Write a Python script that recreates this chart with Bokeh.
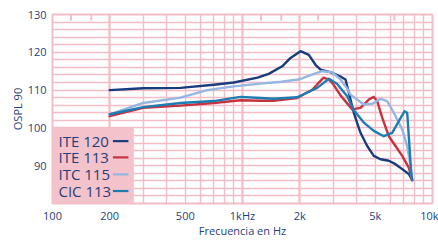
from bokeh.plotting import figure
from bokeh.models import FixedTicker, Grid, Label, BoxAnnotation
from bokeh.embed import file_html
from bokeh.resources import INLINE

# ---- data ----
ite120_f = [200, 300, 472, 706, 900, 1200, 1374, 1618, 1790, 2019, 2234, 2422, 2575, 2735, 2950, 3280, 3484, 3628, 3853, 4179, 4532, 4910, 5324, 5888, 6387, 6927, 7503, 7820]
ite120_db = [110.0, 110.5, 110.6, 111.4, 112.0, 113.3, 114.3, 116.3, 118.5, 120.3, 119.3, 116.7, 115.4, 115.1, 114.6, 113.6, 112.8, 109.3, 104.0, 98.7, 95.2, 92.6, 91.7, 91.3, 90.4, 89.1, 87.8, 86.2]

ite113_f = [200, 300, 472, 706, 976, 1244, 1456, 1940, 2327, 2669, 2850, 3000, 3280, 3779, 4179, 4620, 4910, 5117, 5436, 5888, 6387, 6927, 7503, 7820]
ite113_db = [103.1, 105.3, 105.9, 106.6, 107.3, 107.2, 107.2, 107.9, 110.1, 113.3, 112.8, 111.6, 108.6, 104.9, 105.3, 107.5, 108.2, 107.1, 102.7, 97.8, 95.2, 92.6, 89.5, 86.2]

itc115_f = [200, 300, 472, 652, 900, 1244, 1600, 1971, 2300, 2627, 2950, 3280, 3556, 3702, 4350, 4815, 5324, 5775, 6256, 6927, 7358, 7658, 7820]
itc115_db = [103.6, 106.6, 108.0, 110.0, 111.0, 111.7, 112.2, 112.8, 114.0, 115.0, 114.8, 112.8, 110.4, 108.8, 106.2, 106.4, 107.7, 107.1, 104.0, 99.6, 95.2, 90.0, 86.2]

cic113_f = [200, 300, 472, 706, 976, 1244, 1456, 1940, 2472, 2850, 3150, 3556, 3853, 4350, 4910, 5542, 6137, 6647, 7124, 7358, 7503, 7725, 7820]
cic113_db = [103.6, 105.5, 106.6, 107.1, 108.2, 107.9, 107.7, 108.1, 110.6, 113.0, 111.6, 108.4, 104.7, 101.4, 99.2, 97.8, 98.7, 101.8, 104.4, 104.0, 97.8, 88.2, 86.2]

series_names = ["ITE 120", "ITE 113", "ITC 115", "CIC 113"]
series_f = [ite120_f, ite113_f, itc115_f, cic113_f]
series_db = [ite120_db, ite113_db, itc115_db, cic113_db]
series_colors = ["#173d7d", "#c8323e", "#93b6e2", "#1b7db1"]

x_ticks = [100, 200, 500, 1000, 2000, 5000, 10000]
x_tick_labels = ["100", "200", "500", "1kHz", "2k", "5k", "10k"]
y_ticks = [90, 100, 110, 120, 130]
third_octave_marks = [125, 160, 1250, 1600, 2500, 6300]

# ---- styling ----
PINK = "#f4bcc6"
NAVY = "#1f3f7a"
FONT = "Open Sans"

p = figure(width=438, height=240, x_axis_type="log", x_range=(100, 10000), y_range=(80, 130),
           output_backend="svg", toolbar_location=None,
           min_border_left=52, min_border_right=6, min_border_top=14, min_border_bottom=36)
p.background_fill_color = "white"
p.border_fill_color = "white"
p.outline_line_color = PINK
p.outline_line_width = 2

# grids
minor_x = [300, 400, 500, 600, 700, 800, 900, 3000, 4000, 5000, 6000, 7000, 8000, 9000]
major_x = [200, 1000, 2000]
p.xgrid.ticker = FixedTicker(ticks=minor_x)
p.xgrid.grid_line_color = PINK
p.xgrid.grid_line_width = 1.4
g2 = Grid(dimension=0, ticker=FixedTicker(ticks=major_x), grid_line_color=PINK, grid_line_width=2.2)
p.add_layout(g2)
p.ygrid.ticker = FixedTicker(ticks=list(range(82, 130, 2)))
p.ygrid.grid_line_color = PINK
p.ygrid.grid_line_width = 1.4

# top third-octave tick marks
p.segment(x0=third_octave_marks, x1=third_octave_marks,
          y0=[130] * len(third_octave_marks), y1=[128.4] * len(third_octave_marks),
          line_color=PINK, line_width=2)

# axes
for ax in (p.xaxis[0], p.yaxis[0]):
    ax.axis_line_color = None
    ax.major_tick_line_color = None
    ax.minor_tick_line_color = None
    ax.major_tick_in = 0
    ax.major_tick_out = 0
    ax.major_label_text_color = NAVY
    ax.major_label_text_font = FONT
    ax.major_label_text_font_size = "11px"
    ax.axis_label_text_color = NAVY
    ax.axis_label_text_font = FONT
    ax.axis_label_text_font_size = "11px"
    ax.axis_label_text_font_style = "normal"

p.xaxis.ticker = FixedTicker(ticks=x_ticks)
p.xaxis.major_label_overrides = {t: l for t, l in zip(x_ticks, x_tick_labels)}
p.xaxis.major_label_standoff = 4
p.xaxis.axis_label = "Frecuencia en Hz"
p.xaxis.axis_label_standoff = -3

p.yaxis.ticker = FixedTicker(ticks=y_ticks)
p.yaxis.major_label_standoff = 6
p.yaxis.axis_label = "OSPL 90"
p.yaxis.axis_label_standoff = 0

# curves
for f, db, c in zip(series_f, series_db, series_colors):
    p.line(f, db, line_color=c, line_width=2.4, line_join="round", line_cap="round")

# legend box
p.add_layout(BoxAnnotation(left=100, right=268, bottom=80, top=100.1,
                           fill_color="#f4c2cb", fill_alpha=1, line_color=None))
legend_y = [96.5, 92.2, 87.7, 83.3]
for name, c, ly in zip(series_names, series_colors, legend_y):
    p.add_layout(Label(x=107.5, y=ly, text=name, text_font=FONT, text_font_size="15px",
                       text_color=NAVY, text_baseline="middle", text_align="left"))
leg = p.segment(x0=[208] * 4, x1=[251] * 4, y0=legend_y, y1=legend_y,
                line_color=series_colors, line_width=2.2)
leg.level = "overlay"

open("out.html", "w").write(file_html(p, INLINE))
